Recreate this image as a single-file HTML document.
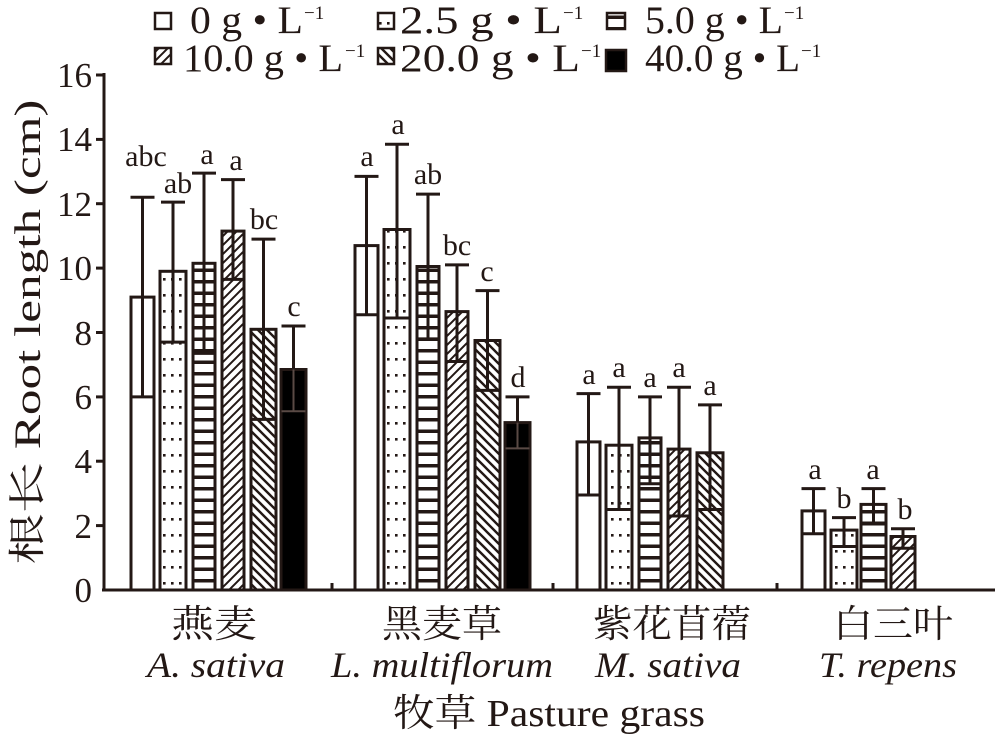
<!DOCTYPE html>
<html><head><meta charset="utf-8"><style>
body{margin:0;background:#fff}
svg text{font-family:"Liberation Serif","Noto Serif CJK SC",serif;fill:#231815}
</style></head><body>
<svg width="1000" height="734" viewBox="0 0 1000 734" xmlns="http://www.w3.org/2000/svg">
<defs>
<pattern id="p1" width="8" height="16" patternUnits="userSpaceOnUse"><rect width="8" height="16" fill="#fff"/><rect x="3" y="6" width="2.6" height="2.6" fill="#231815"/></pattern>
<pattern id="p2" width="8" height="11.5" patternUnits="userSpaceOnUse"><rect width="8" height="11.5" fill="#fff"/><rect x="0" y="4" width="8" height="3.5" fill="#231815"/></pattern>
<pattern id="p3" width="9" height="9" patternUnits="userSpaceOnUse"><rect width="9" height="9" fill="#fff"/><path d="M-2,11 L11,-2 M-2,2 L2,-2 M7,11 L11,7" stroke="#231815" stroke-width="2"/></pattern>
<pattern id="p4" width="9" height="9" patternUnits="userSpaceOnUse"><rect width="9" height="9" fill="#fff"/><path d="M-2,-2 L11,11 M-2,7 L2,11 M7,-2 L11,2" stroke="#231815" stroke-width="2.4"/></pattern>
</defs>
<g stroke="#231815" stroke-width="3" fill="none">
<line x1="104" y1="73" x2="104" y2="591"/>
<line x1="102" y1="590" x2="995" y2="590"/>
<line x1="96" y1="75" x2="104" y2="75"/><line x1="96" y1="139.4" x2="104" y2="139.4"/><line x1="96" y1="203.7" x2="104" y2="203.7"/><line x1="96" y1="268.1" x2="104" y2="268.1"/><line x1="96" y1="332.5" x2="104" y2="332.5"/><line x1="96" y1="396.9" x2="104" y2="396.9"/><line x1="96" y1="461.2" x2="104" y2="461.2"/><line x1="96" y1="525.6" x2="104" y2="525.6"/>
<line x1="332" y1="583" x2="332" y2="590"/><line x1="553" y1="583" x2="553" y2="590"/><line x1="777" y1="583" x2="777" y2="590"/>
</g>
<g font-size="35" text-anchor="end">
<text x="92" y="87">16</text><text x="92" y="151">14</text><text x="92" y="216">12</text><text x="92" y="280">10</text><text x="92" y="345">8</text><text x="92" y="409">6</text><text x="92" y="473">4</text><text x="92" y="538">2</text><text x="92" y="602">0</text>
</g>
<text transform="translate(40,332) rotate(-90)" font-size="37" text-anchor="middle" textLength="465" lengthAdjust="spacingAndGlyphs">根长 Root length (cm)</text>
<g stroke="#231815" stroke-width="3">
<rect x="131" y="297.1" width="23" height="292.9" fill="#fff"/>
<rect x="160" y="271.3" width="26" height="318.7" fill="url(#p1)"/>
<rect x="193" y="263.3" width="22" height="326.7" fill="url(#p2)"/>
<rect x="222" y="231.1" width="22" height="358.9" fill="url(#p3)"/>
<rect x="251" y="329.3" width="25" height="260.7" fill="url(#p4)"/>
<rect x="281" y="369.5" width="25" height="220.5" fill="#000"/>
<rect x="355" y="245.6" width="23" height="344.4" fill="#fff"/>
<rect x="384" y="229.5" width="26" height="360.5" fill="url(#p1)"/>
<rect x="417" y="266.5" width="22" height="323.5" fill="url(#p2)"/>
<rect x="446" y="311.6" width="22" height="278.4" fill="url(#p3)"/>
<rect x="475" y="340.5" width="25" height="249.5" fill="url(#p4)"/>
<rect x="505" y="422.6" width="25" height="167.4" fill="#000"/>
<rect x="577" y="441.9" width="23" height="148.1" fill="#fff"/>
<rect x="606" y="445.2" width="26" height="144.8" fill="url(#p1)"/>
<rect x="639" y="437.9" width="22" height="152.1" fill="url(#p2)"/>
<rect x="668" y="449.1" width="22" height="140.9" fill="url(#p3)"/>
<rect x="697" y="452.8" width="26" height="137.2" fill="url(#p4)"/>
<rect x="802" y="510.9" width="23" height="79.1" fill="#fff"/>
<rect x="831" y="530.1" width="26" height="59.9" fill="url(#p1)"/>
<rect x="861" y="504.4" width="25" height="85.6" fill="url(#p2)"/>
<rect x="891" y="536.5" width="24" height="53.5" fill="url(#p3)"/>
</g>
<g stroke="#231815" stroke-width="3" fill="none">
<path d="M142.5,197.3V396.9M130.5,197.3H154.5M130.5,396.9H154.5"/>
<path d="M173,202.1V342.1M161,202.1H185M161,342.1H185"/>
<path d="M204,173.1V353.4M192,173.1H216M192,353.4H216"/>
<path d="M233,179.6V279.4M221,179.6H245M221,279.4H245"/>
<path d="M263.5,239.1V419.4M251.5,239.1H275.5M251.5,419.4H275.5"/>
<path d="M366.5,176.4V314.8M354.5,176.4H378.5M354.5,314.8H378.5"/>
<path d="M397,144.2V318M385,144.2H409M385,318H409"/>
<path d="M428,194.1V338.9M416,194.1H440M416,338.9H440"/>
<path d="M457,264.9V361.5M445,264.9H469M445,361.5H469"/>
<path d="M487.5,290.6V390.4M475.5,290.6H499.5M475.5,390.4H499.5"/>
<path d="M588.5,393.6V495M576.5,393.6H600.5M576.5,495H600.5"/>
<path d="M619,387.2V509.5M607,387.2H631M607,509.5H631"/>
<path d="M650,396.9V483.8M638,396.9H662M638,483.8H662"/>
<path d="M679,387.2V516M667,387.2H691M667,516H691"/>
<path d="M710,404.9V509.5M698,404.9H722M698,509.5H722"/>
<path d="M813.5,488.6V533.7M801.5,488.6H825.5M801.5,533.7H825.5"/>
<path d="M844,517.6V546.5M832,517.6H856M832,546.5H856"/>
<path d="M873.5,488.6V524M861.5,488.6H885.5M861.5,524H885.5"/>
<path d="M903,528.8V548.2M891,528.8H915M891,548.2H915"/>
</g>
<g stroke="#231815" stroke-width="3" fill="none">
<path d="M293.5,326V369.5M281.5,326H305.5"/>
<path d="M517.5,396.9V422.6M505.5,396.9H529.5"/>
</g>
<g stroke="#5a4a45" stroke-width="2" fill="none">
<path d="M293.5,369.5V411.3M281.5,411.3H305.5"/>
<path d="M517.5,422.6V448.4M505.5,448.4H529.5"/>
</g>
<g font-size="30" text-anchor="middle">
<text x="146" y="166">abc</text><text x="178" y="193">ab</text><text x="207" y="164">a</text><text x="236" y="170">a</text><text x="264" y="229">bc</text><text x="294" y="316">c</text>
<text x="367" y="166">a</text><text x="398" y="134">a</text><text x="428" y="184">ab</text><text x="457" y="255">bc</text><text x="487" y="281">c</text><text x="518" y="387">d</text>
<text x="589" y="384">a</text><text x="619" y="377">a</text><text x="650" y="387">a</text><text x="679" y="377">a</text><text x="710" y="395">a</text>
<text x="815" y="479">a</text><text x="844" y="508">b</text><text x="873" y="479">a</text><text x="905" y="519">b</text>
</g>
<g text-anchor="middle">
<g font-size="38">
<text x="214" y="637" textLength="86" lengthAdjust="spacingAndGlyphs">燕麦</text><text x="442" y="637" textLength="120" lengthAdjust="spacingAndGlyphs">黑麦草</text><text x="672" y="637" textLength="158" lengthAdjust="spacingAndGlyphs">紫花苜蓿</text><text x="893" y="637" textLength="120" lengthAdjust="spacingAndGlyphs">白三叶</text>
</g>
<g font-style="italic" font-size="36">
<text x="216" y="677" textLength="138" lengthAdjust="spacingAndGlyphs">A. sativa</text><text x="442" y="677" textLength="222" lengthAdjust="spacingAndGlyphs">L. multiflorum</text><text x="668" y="677" textLength="146" lengthAdjust="spacingAndGlyphs">M. sativa</text><text x="888" y="677" textLength="138" lengthAdjust="spacingAndGlyphs">T. repens</text>
</g>
<text x="549" y="726" font-size="38" textLength="312" lengthAdjust="spacingAndGlyphs">牧草 Pasture grass</text>
</g>
<g stroke="#231815" stroke-width="2.5">
<rect x="155" y="13" width="16" height="16" fill="#fff"/>
<rect x="378" y="13" width="16" height="16" fill="url(#p1)"/>
<rect x="607" y="13" width="18" height="16" fill="url(#p2)"/>
<rect x="155" y="48" width="16" height="16" fill="url(#p3)"/>
<rect x="378" y="48" width="16" height="16" fill="url(#p4)"/>
<rect x="606" y="50" width="20" height="21" fill="#000"/>
</g>
<g font-size="39">
<text x="190" y="33" textLength="113" lengthAdjust="spacingAndGlyphs">0 g • L</text><text x="304" y="19" font-size="19">−1</text>
<text x="400" y="33" textLength="162" lengthAdjust="spacingAndGlyphs">2.5 g • L</text><text x="563" y="19" font-size="19">−1</text>
<text x="645" y="33" textLength="138" lengthAdjust="spacingAndGlyphs">5.0 g • L</text><text x="784" y="19" font-size="19">−1</text>
<text x="183" y="71" textLength="160" lengthAdjust="spacingAndGlyphs">10.0 g • L</text><text x="345" y="57" font-size="19">−1</text>
<text x="400" y="71" textLength="180" lengthAdjust="spacingAndGlyphs">20.0 g • L</text><text x="581" y="57" font-size="19">−1</text>
<text x="645" y="71" textLength="155" lengthAdjust="spacingAndGlyphs">40.0 g • L</text><text x="801" y="57" font-size="19">−1</text>
</g>
</svg>
</body></html>
